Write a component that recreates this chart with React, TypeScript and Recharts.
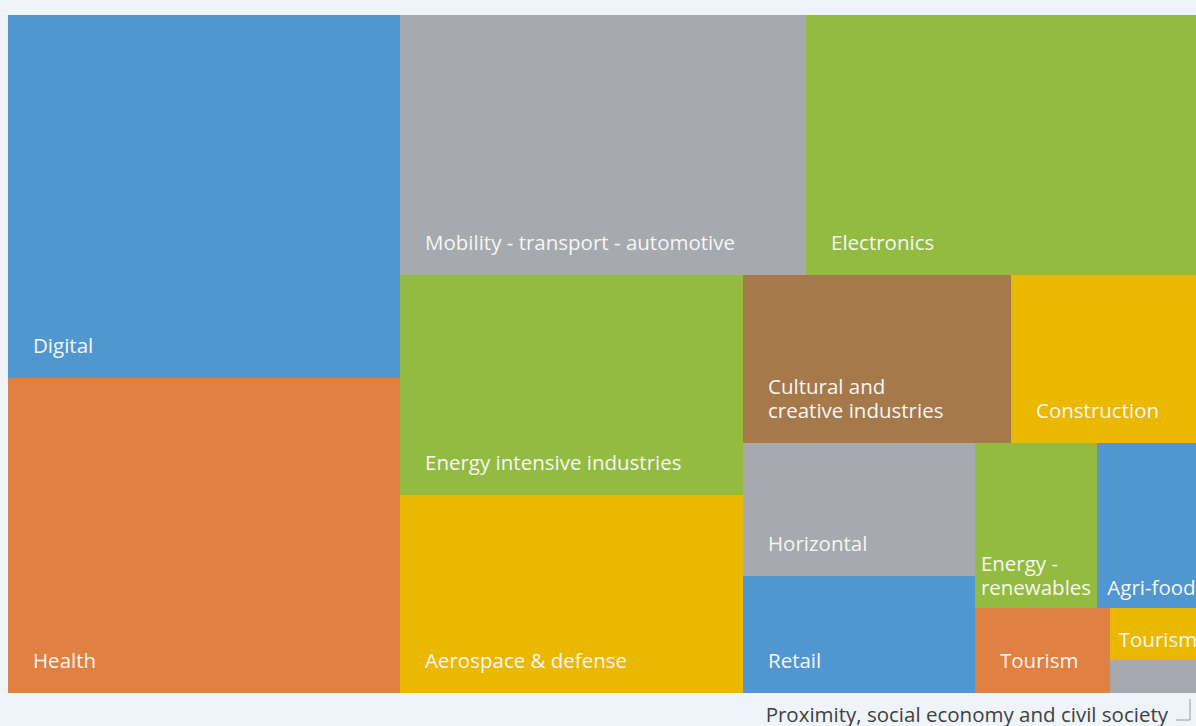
import React from 'react';
import { Treemap } from 'recharts';

// industrial ecosystems, in the order the treemap lays them out
const categories = [
  'Digital',
  'Health',
  'Mobility - transport - automotive',
  'Electronics',
  'Energy intensive industries',
  'Aerospace & defense',
  'Cultural and\ncreative industries',
  'Construction',
  'Horizontal',
  'Retail',
  'Energy -\nrenewables',
  'Agri-food',
  'Tourism',
  'Tourism',
  'Proximity, social economy and civil society',
];

const values = [142.3, 123.5, 105.6, 104.0, 75.5, 67.9, 45.0, 32.8, 30.9, 27.1, 20.1, 18.0, 11.5, 5.0, 3.2];

const BLUE = '#5097d2';
const ORANGE = '#e08142';
const GREY = '#a6a9ad';
const GREEN = '#92bb3f';
const GOLD = '#ebb800';
const BROWN = '#a5794a';

const cellColors = [BLUE, ORANGE, GREY, GREEN, GREEN, GOLD, BROWN, GOLD, GREY, BLUE, GREEN, BLUE, ORANGE, GOLD, GREY];

// labels drawn below the chart with a leader line
const outsideLabels = ['Proximity, social economy and civil society'];

const FONT = "'Open Sans', 'Noto Sans', sans-serif";
const FS = 20.5;
const BG = '#eff4fb';

let ctx: CanvasRenderingContext2D | null = null;
function textWidth(s: string, size = FS) {
  if (!ctx) ctx = document.createElement('canvas').getContext('2d');
  if (!ctx) return s.length * size * 0.5;
  ctx.font = `${size}px ${FONT}`;
  return ctx.measureText(s).width;
}

// grouping so the squarify steps alternate like the original layout
const leaf = (i: number) => ({ name: categories[i], size: values[i], idx: i });
const treeData = [
  leaf(0),
  leaf(1),
  {
    name: 'rest-1',
    children: [
      { name: 'top-row', children: [leaf(2), leaf(3)] },
      {
        name: 'rest-2',
        children: [
          leaf(4),
          leaf(5),
          {
            name: 'rest-3',
            children: [
              { name: 'mid-row', children: [leaf(6), leaf(7)] },
              {
                name: 'rest-4',
                children: [
                  leaf(8),
                  leaf(9),
                  {
                    name: 'rest-5',
                    children: [leaf(10), leaf(11), { name: 'rest-6', children: [leaf(12), leaf(13), leaf(14)] }],
                  },
                ],
              },
            ],
          },
        ],
      },
    ],
  },
];

function Cell(props: any) {
  const { x, y, width, height, idx } = props;
  if (idx === undefined || idx === null) return null;
  const name = categories[idx];
  const bottom = y + height;

  if (outsideLabels.includes(name)) {
    const lx = x + 80;
    return (
      <g>
        <rect x={x} y={y} width={width} height={height} fill={cellColors[idx]} />
        <path d={`M${lx - 14},${bottom + 27}H${lx}V${bottom + 6}`} stroke="#9a9a9a" strokeWidth={1} fill="none" />
        <text x={lx - 22} y={bottom + 29} textAnchor="end" fill="#404040" fontSize={FS} fontFamily={FONT}>
          {name}
        </text>
      </g>
    );
  }

  const lines = name.split('\n');
  const block = Math.max(...lines.map((l) => textWidth(l)));
  const roomy = block + 50 <= width;
  const tx = roomy ? x + 25 : x + (width - block) / 2;
  const lastBase = roomy ? bottom - 25 : bottom - 13;
  return (
    <g>
      <rect x={x} y={y} width={width} height={height} fill={cellColors[idx]} />
      {lines.map((l, i) => (
        <text key={i} x={tx} y={lastBase - (lines.length - 1 - i) * 24} fill="#f6f6f6" fontSize={FS} fontFamily={FONT}>
          {l}
        </text>
      ))}
    </g>
  );
}

export default function App() {
  return (
    <div
      style={{
        position: 'absolute',
        left: 0,
        top: 0,
        width: 1196,
        height: 726,
        overflow: 'hidden',
        background: BG,
      }}
    >
      <style>{'.recharts-surface{overflow:visible}'}</style>
      <div style={{ position: 'absolute', left: 8, top: 15 }}>
        <Treemap
          width={1198}
          height={678}
          data={treeData}
          dataKey="size"
          nameKey="name"
          content={<Cell />}
          isAnimationActive={false}
        />
      </div>
    </div>
  );
}
